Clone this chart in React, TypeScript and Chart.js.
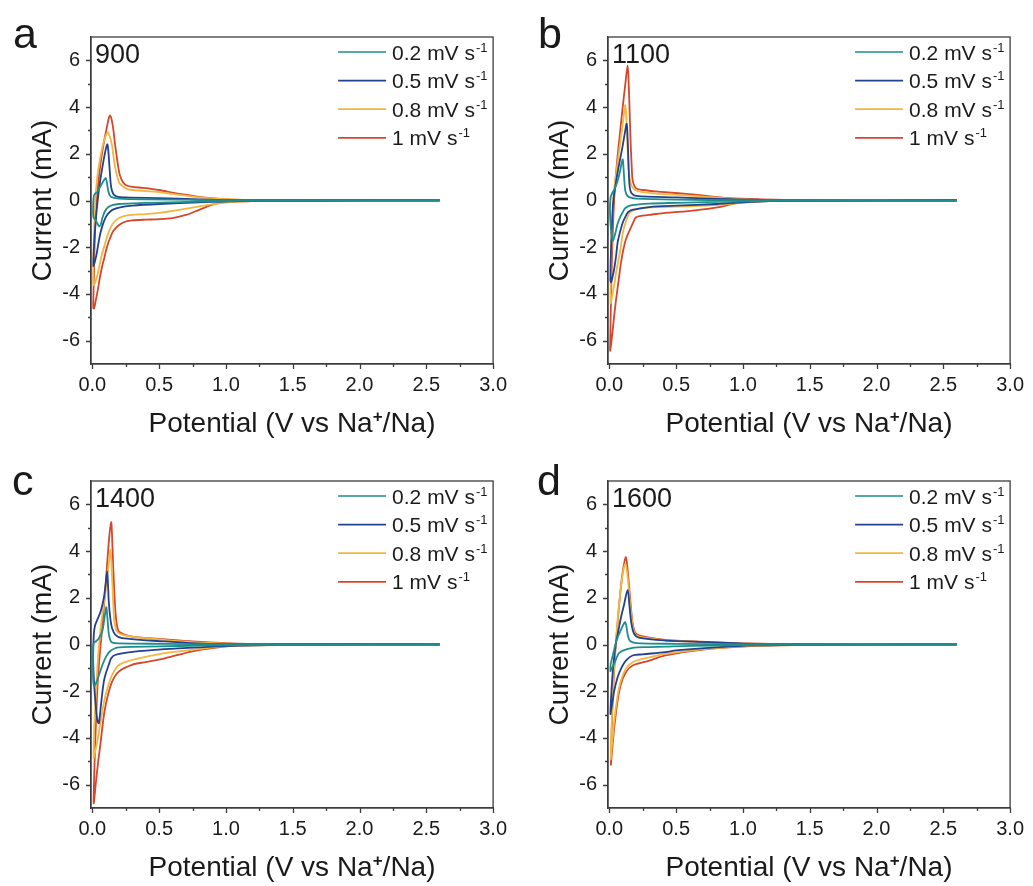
import React, { useEffect, useRef } from 'react';
import { Chart, registerables } from 'chart.js';

Chart.register(...registerables);

// ---------- categories / labels ----------
const RATE_LABELS = ['0.2 mV s', '0.5 mV s', '0.8 mV s', '1 mV s'];
const RATE_SUP = '-1';
const RATE_COLORS = ['#1d8e8c', '#22428f', '#f2b641', '#d5472b'];
const PANEL_LETTERS = ['a', 'b', 'c', 'd'];
const PANEL_TEMPS = ['900', '1100', '1400', '1600'];
const X_TICKS = [0, 0.5, 1, 1.5, 2, 2.5, 3];
const X_MINOR = [0.25, 0.75, 1.25, 1.75, 2.25, 2.75];
const Y_TICKS = [-6, -4, -2, 0, 2, 4, 6];
const Y_MINOR = [-5, -3, -1, 1, 3, 5];

// ---------- series: [potential V, current mA], cathodic sweep then anodic sweep ----------
const CV_900_02: [number, number][] = [
  [2.6, 0.01], [1.5, 0.0], [1.1, -0.02], [0.8, -0.05], [0.5, -0.09], [0.3, -0.12], [0.2, -0.15], [0.15, -0.2],
  [0.12, -0.28], [0.095, -0.45], [0.075, -0.75], [0.062, -1.05], [0.05, -1.1], [0.035, -0.95], [0.02, -0.8], [0.008, -0.72],
  [0.006, -0.3], [0.01, 0.15], [0.018, 0.28], [0.035, 0.35], [0.055, 0.55], [0.075, 0.75], [0.09, 0.9], [0.1, 0.96],
  [0.108, 0.8], [0.118, 0.45], [0.13, 0.22], [0.15, 0.13], [0.2, 0.08], [0.4, 0.05], [0.8, 0.03], [1.2, 0.01], [2.6, 0.01],
];
const CV_900_05: [number, number][] = [
  [2.6, 0.0], [1.5, -0.01], [1.1, -0.03], [0.8, -0.08], [0.5, -0.15], [0.3, -0.22], [0.2, -0.3], [0.15, -0.4],
  [0.12, -0.55], [0.1, -0.72], [0.08, -1.0], [0.06, -1.4], [0.045, -1.85], [0.03, -2.35], [0.015, -2.7], [0.008, -2.8],
  [0.012, -2.0], [0.025, -0.9], [0.04, 0.0], [0.055, 0.7], [0.07, 1.25], [0.09, 1.9], [0.105, 2.3], [0.113, 2.4],
  [0.12, 2.1], [0.13, 1.3], [0.14, 0.6], [0.155, 0.3], [0.18, 0.18], [0.25, 0.13], [0.5, 0.1], [0.8, 0.05], [1.1, 0.02], [2.6, 0.01],
];
const CV_900_08: [number, number][] = [
  [2.6, 0.0], [1.5, -0.01], [1.2, -0.03], [1.0, -0.09], [0.8, -0.25], [0.6, -0.45], [0.5, -0.53], [0.4, -0.58],
  [0.26, -0.64], [0.2, -0.75], [0.158, -0.95], [0.13, -1.25], [0.109, -1.57], [0.09, -1.95], [0.072, -2.3], [0.055, -2.75],
  [0.04, -3.15], [0.025, -3.45], [0.012, -3.62], [0.006, -3.5],
  [0.008, -2.6], [0.014, -1.2], [0.022, 0.0], [0.035, 0.9], [0.05, 1.5], [0.065, 2.0], [0.08, 2.4], [0.096, 2.7],
  [0.116, 2.93], [0.13, 2.75], [0.146, 2.4], [0.158, 1.9], [0.17, 1.43], [0.19, 0.95], [0.207, 0.71], [0.257, 0.5],
  [0.3, 0.45], [0.5, 0.36], [0.6, 0.28], [0.75, 0.17], [0.9, 0.09], [1.0, 0.06], [1.2, 0.02], [2.6, 0.01],
];
const CV_900_10: [number, number][] = [
  [2.6, 0.0], [1.5, -0.01], [1.2, -0.03], [1.0, -0.06], [0.9, -0.18], [0.8, -0.4], [0.7, -0.62], [0.6, -0.75],
  [0.5, -0.8], [0.4, -0.82], [0.3, -0.85], [0.25, -0.9], [0.2, -1.05], [0.158, -1.3], [0.13, -1.65], [0.109, -2.0],
  [0.09, -2.45], [0.072, -2.86], [0.055, -3.35], [0.04, -3.86], [0.025, -4.3], [0.013, -4.62], [0.007, -4.6],
  [0.009, -3.9], [0.014, -2.6], [0.02, -1.3], [0.03, -0.2], [0.04, 0.5], [0.055, 1.3], [0.072, 2.0], [0.09, 2.6],
  [0.109, 3.14], [0.122, 3.5], [0.133, 3.64], [0.145, 3.45], [0.158, 3.0], [0.17, 2.4], [0.183, 1.86], [0.195, 1.4],
  [0.207, 1.07], [0.23, 0.78], [0.257, 0.64], [0.3, 0.58], [0.38, 0.54], [0.5, 0.45], [0.62, 0.31], [0.75, 0.2],
  [0.87, 0.11], [0.98, 0.06], [1.2, 0.02], [2.6, 0.01],
];

const CV_1100_02: [number, number][] = [
  [2.6, 0.0], [1.5, -0.01], [1.1, -0.03], [0.8, -0.06], [0.5, -0.1], [0.3, -0.13], [0.17, -0.2], [0.12, -0.32],
  [0.1, -0.5], [0.08, -0.72], [0.062, -1.0], [0.045, -1.4], [0.032, -1.65], [0.025, -1.72], [0.015, -1.4], [0.008, -0.9],
  [0.005, -0.5], [0.006, -0.1], [0.01, 0.15], [0.02, 0.3], [0.04, 0.5], [0.06, 0.8], [0.08, 1.25], [0.092, 1.6],
  [0.1, 1.76], [0.106, 1.4], [0.113, 0.8], [0.12, 0.4], [0.135, 0.2], [0.16, 0.12], [0.2, 0.08], [0.5, 0.04], [1.0, 0.01], [2.6, 0.01],
];
const CV_1100_05: [number, number][] = [
  [2.6, 0.0], [1.5, -0.01], [1.2, -0.03], [1.0, -0.08], [0.8, -0.15], [0.5, -0.22], [0.3, -0.28], [0.17, -0.4],
  [0.14, -0.5], [0.12, -0.7], [0.1, -0.95], [0.08, -1.35], [0.062, -1.8], [0.05, -2.4], [0.037, -2.9], [0.025, -3.25],
  [0.013, -3.5], [0.008, -3.4], [0.012, -2.2], [0.02, -1.0], [0.03, 0.0], [0.045, 0.6], [0.065, 1.3], [0.085, 1.9],
  [0.1, 2.35], [0.115, 2.85], [0.13, 3.28], [0.138, 2.5], [0.145, 1.3], [0.152, 0.6], [0.165, 0.32], [0.2, 0.2],
  [0.5, 0.13], [0.8, 0.07], [1.0, 0.04], [1.3, 0.01], [2.6, 0.01],
];
const CV_1100_08: [number, number][] = [
  [2.6, 0.0], [1.5, -0.01], [1.2, -0.03], [1.0, -0.1], [0.8, -0.2], [0.6, -0.25], [0.4, -0.28], [0.25, -0.32],
  [0.18, -0.42], [0.15, -0.55], [0.124, -0.9], [0.1, -1.4], [0.087, -1.95], [0.07, -2.5], [0.05, -3.1], [0.037, -3.6],
  [0.025, -3.97], [0.013, -4.35], [0.008, -4.4], [0.01, -3.5], [0.015, -2.2], [0.022, -0.9], [0.03, 0.1], [0.04, 0.7],
  [0.055, 1.3], [0.075, 2.2], [0.09, 2.85], [0.105, 3.5], [0.119, 4.08], [0.128, 3.4], [0.137, 2.2], [0.149, 1.1],
  [0.165, 0.65], [0.2, 0.43], [0.3, 0.32], [0.5, 0.24], [0.7, 0.17], [0.9, 0.08], [1.1, 0.03], [2.6, 0.01],
];
const CV_1100_10: [number, number][] = [
  [2.6, 0.0], [1.5, -0.01], [1.2, -0.02], [1.05, -0.05], [0.99, -0.07], [0.9, -0.18], [0.82, -0.28], [0.7, -0.38],
  [0.57, -0.47], [0.42, -0.53], [0.32, -0.6], [0.25, -0.65], [0.2, -0.72], [0.174, -1.0], [0.15, -1.3], [0.124, -1.66],
  [0.105, -2.1], [0.087, -2.67], [0.07, -3.4], [0.05, -4.26], [0.037, -4.9], [0.025, -5.56], [0.012, -6.2], [0.006, -6.43],
  [0.008, -5.6], [0.013, -4.0], [0.02, -2.4], [0.028, -1.0], [0.04, 0.4], [0.06, 1.8], [0.08, 2.9], [0.1, 4.0],
  [0.12, 5.0], [0.137, 5.78], [0.145, 5.0], [0.153, 3.6], [0.16, 2.4], [0.168, 1.4], [0.175, 0.85], [0.2, 0.52],
  [0.25, 0.45], [0.39, 0.37], [0.64, 0.25], [0.89, 0.1], [1.14, 0.05], [1.5, 0.02], [2.6, 0.01],
];

const CV_1400_02: [number, number][] = [
  [2.6, 0.0], [1.5, -0.01], [1.1, -0.03], [0.8, -0.05], [0.5, -0.08], [0.3, -0.1], [0.2, -0.12], [0.17, -0.16],
  [0.13, -0.3], [0.1, -0.55], [0.074, -0.9], [0.05, -1.3], [0.035, -1.55], [0.02, -1.75], [0.012, -1.8], [0.006, -1.5],
  [0.005, -0.8], [0.006, -0.1], [0.01, 0.05], [0.03, 0.15], [0.049, 0.27], [0.074, 0.56], [0.09, 1.1], [0.104, 1.6],
  [0.112, 1.2], [0.123, 0.45], [0.135, 0.18], [0.15, 0.08], [0.2, 0.05], [0.5, 0.03], [1.0, 0.01], [2.6, 0.01],
];
const CV_1400_05: [number, number][] = [
  [2.6, 0.0], [1.5, -0.01], [1.1, -0.05], [0.8, -0.12], [0.54, -0.2], [0.3, -0.32], [0.17, -0.45], [0.14, -0.6],
  [0.123, -0.87], [0.1, -1.25], [0.086, -1.59], [0.074, -2.1], [0.062, -2.73], [0.049, -3.37], [0.04, -3.3], [0.03, -2.9],
  [0.018, -2.1], [0.01, -1.3], [0.006, -0.6], [0.008, 0.0], [0.012, 0.5], [0.02, 0.8], [0.037, 1.06], [0.062, 1.41],
  [0.086, 1.99], [0.1, 2.6], [0.111, 3.13], [0.117, 2.6], [0.123, 1.84], [0.135, 1.1], [0.148, 0.7], [0.173, 0.41],
  [0.222, 0.27], [0.54, 0.13], [0.74, 0.06], [1.0, 0.02], [2.6, 0.01],
];
const CV_1400_08: [number, number][] = [
  [2.6, 0.0], [1.5, -0.01], [1.1, -0.04], [0.9, -0.12], [0.74, -0.23], [0.54, -0.37], [0.3, -0.66], [0.2, -0.87],
  [0.148, -1.3], [0.12, -1.75], [0.099, -2.16], [0.08, -2.7], [0.062, -3.3], [0.037, -4.16], [0.02, -4.6], [0.01, -4.87],
  [0.011, -4.2], [0.016, -3.3], [0.025, -2.3], [0.04, -0.8], [0.06, 0.6], [0.08, 1.5], [0.1, 2.3], [0.12, 3.3],
  [0.136, 4.06], [0.143, 3.5], [0.15, 2.6], [0.158, 1.6], [0.165, 1.0], [0.185, 0.55], [0.25, 0.38], [0.5, 0.22],
  [0.75, 0.1], [1.0, 0.04], [1.3, 0.01], [2.6, 0.01],
];
const CV_1400_10: [number, number][] = [
  [2.6, 0.0], [1.5, -0.01], [1.1, -0.05], [0.9, -0.15], [0.74, -0.3], [0.543, -0.59], [0.4, -0.75], [0.296, -0.87],
  [0.198, -1.16], [0.148, -1.59], [0.111, -2.3], [0.09, -2.9], [0.074, -3.59], [0.06, -4.3], [0.044, -5.0], [0.025, -6.0],
  [0.015, -6.6], [0.01, -6.8], [0.012, -6.0], [0.02, -4.5], [0.035, -2.2], [0.05, -0.8], [0.075, 0.8], [0.1, 2.6],
  [0.125, 4.5], [0.141, 5.24], [0.148, 4.6], [0.155, 3.5], [0.165, 2.2], [0.173, 1.4], [0.185, 0.8], [0.2, 0.55],
  [0.3, 0.34], [0.55, 0.22], [0.75, 0.13], [1.0, 0.06], [1.3, 0.02], [2.6, 0.01],
];

const CV_1600_02: [number, number][] = [
  [2.6, 0.0], [1.5, -0.01], [1.0, -0.03], [0.6, -0.06], [0.42, -0.09], [0.3, -0.11], [0.174, -0.14], [0.1, -0.26],
  [0.07, -0.38], [0.062, -0.47], [0.045, -0.7], [0.03, -0.9], [0.015, -1.05], [0.008, -1.14],
  [0.01, -0.85], [0.02, -0.6], [0.035, -0.25], [0.05, 0.1], [0.065, 0.35], [0.085, 0.6], [0.105, 0.85], [0.119, 0.96],
  [0.13, 0.7], [0.14, 0.35], [0.155, 0.15], [0.2, 0.06], [0.5, 0.03], [1.0, 0.01], [2.6, 0.01],
];
const CV_1600_05: [number, number][] = [
  [2.6, 0.0], [1.5, -0.01], [1.1, -0.04], [0.8, -0.12], [0.5, -0.25], [0.42, -0.33], [0.25, -0.42], [0.174, -0.47],
  [0.124, -0.69], [0.087, -1.04], [0.062, -1.4], [0.037, -1.97], [0.025, -2.4], [0.015, -2.75], [0.008, -2.97],
  [0.02, -1.6], [0.035, -0.6], [0.05, 0.1], [0.065, 0.5], [0.085, 1.1], [0.11, 1.7], [0.137, 2.34], [0.15, 1.7],
  [0.165, 0.9], [0.185, 0.46], [0.22, 0.29], [0.42, 0.17], [0.75, 0.1], [1.0, 0.04], [1.3, 0.01], [2.6, 0.01],
];
const CV_1600_08: [number, number][] = [
  [2.6, 0.0], [1.5, -0.01], [1.1, -0.05], [0.75, -0.18], [0.42, -0.4], [0.3, -0.55], [0.174, -0.76], [0.124, -1.04],
  [0.087, -1.54], [0.062, -2.19], [0.037, -3.26], [0.025, -3.97], [0.015, -4.6], [0.01, -4.9],
  [0.02, -3.0], [0.03, -1.6], [0.045, -0.2], [0.06, 0.9], [0.08, 2.1], [0.1, 3.0], [0.119, 3.46], [0.135, 3.0],
  [0.155, 1.8], [0.175, 0.8], [0.2, 0.4], [0.3, 0.26], [0.42, 0.18], [0.75, 0.09], [1.0, 0.04], [1.3, 0.01], [2.6, 0.01],
];
const CV_1600_10: [number, number][] = [
  [2.6, 0.0], [1.5, -0.01], [1.1, -0.06], [0.746, -0.19], [0.42, -0.47], [0.3, -0.69], [0.174, -0.9], [0.124, -1.19],
  [0.087, -1.69], [0.062, -2.4], [0.037, -3.54], [0.025, -4.26], [0.015, -4.9], [0.012, -5.14],
  [0.02, -3.2], [0.03, -1.8], [0.045, -0.3], [0.06, 0.8], [0.08, 2.1], [0.1, 3.1], [0.124, 3.74], [0.14, 3.0],
  [0.16, 1.7], [0.175, 0.9], [0.2, 0.46], [0.3, 0.29], [0.42, 0.2], [0.75, 0.1], [1.0, 0.05], [1.3, 0.01], [2.6, 0.01],
];

const PANEL_CURVES = [
  [CV_900_02, CV_900_05, CV_900_08, CV_900_10],
  [CV_1100_02, CV_1100_05, CV_1100_08, CV_1100_10],
  [CV_1400_02, CV_1400_05, CV_1400_08, CV_1400_10],
  [CV_1600_02, CV_1600_05, CV_1600_08, CV_1600_10],
];

// ---------- styling / layout ----------
const FONT = '"Liberation Sans", Arial, Helvetica, sans-serif';
const AXIS_COLOR = '#3c3c3c';
const TEXT_COLOR = '#1a1a1a';
const CANVAS_W = 516;
const CANVAS_H = 443;
const PANEL_POS = [
  { left: 0, top: 0, letterX: 13, letterY: 48 },
  { left: 517, top: 0, letterX: 21, letterY: 48 },
  { left: 0, top: 444, letterX: 12, letterY: 51 },
  { left: 517, top: 444, letterX: 20, letterY: 51 },
];

function makeDecoPlugin(idx: number) {
  return {
    id: 'deco' + idx,
    afterDraw(chart: any) {
      const { ctx, chartArea } = chart;
      const xs = chart.scales.x;
      const ys = chart.scales.y;
      const { left, right, top, bottom } = chartArea;
      ctx.save();
      // frame
      ctx.strokeStyle = AXIS_COLOR;
      ctx.lineWidth = 1.3;
      ctx.strokeRect(left, top, right - left, bottom - top);
      // ticks
      ctx.beginPath();
      X_TICKS.forEach((v) => { const p = Math.round(xs.getPixelForValue(v)) + 0.5; ctx.moveTo(p, bottom); ctx.lineTo(p, bottom + 5); });
      X_MINOR.forEach((v) => { const p = Math.round(xs.getPixelForValue(v)) + 0.5; ctx.moveTo(p, bottom); ctx.lineTo(p, bottom + 3); });
      Y_TICKS.forEach((v) => { const p = Math.round(ys.getPixelForValue(v)) + 0.5; ctx.moveTo(left, p); ctx.lineTo(left - 5, p); });
      Y_MINOR.forEach((v) => { const p = Math.round(ys.getPixelForValue(v)) + 0.5; ctx.moveTo(left, p); ctx.lineTo(left - 3, p); });
      ctx.stroke();

      // legend
      const lx0 = right - 155;
      const lx1 = right - 107;
      const tx = right - 101;
      RATE_LABELS.forEach((lab, i) => {
        const y = top + 15 + i * 28.6;
        ctx.strokeStyle = RATE_COLORS[i];
        ctx.lineWidth = 1.7;
        ctx.beginPath();
        ctx.moveTo(lx0, y);
        ctx.lineTo(lx1, y);
        ctx.stroke();
        ctx.fillStyle = TEXT_COLOR;
        ctx.textBaseline = 'alphabetic';
        ctx.textAlign = 'left';
        ctx.font = `21px ${FONT}`;
        const base = y + 7.5;
        ctx.fillText(lab, tx, base);
        const w = ctx.measureText(lab).width;
        ctx.font = `13px ${FONT}`;
        ctx.fillText(RATE_SUP, tx + w + 1, base - 8);
      });

      // temperature label
      ctx.fillStyle = TEXT_COLOR;
      ctx.font = `27px ${FONT}`;
      ctx.textAlign = 'left';
      ctx.textBaseline = 'alphabetic';
      ctx.fillText(PANEL_TEMPS[idx], left + 4, top + 26);

      // panel letter
      ctx.font = `43px ${FONT}`;
      ctx.fillText(PANEL_LETTERS[idx], PANEL_POS[idx].letterX, PANEL_POS[idx].letterY);

      // x-axis title with superscript
      const parts = ['Potential (V vs Na', '+', '/Na)'];
      ctx.font = `28px ${FONT}`;
      const w0 = ctx.measureText(parts[0]).width;
      const w2 = ctx.measureText(parts[2]).width;
      ctx.font = `bold 17px ${FONT}`;
      const w1 = ctx.measureText(parts[1]).width;
      const total = w0 + w1 + w2;
      const cx = (left + right) / 2;
      const baseY = 432;
      let x = cx - total / 2;
      ctx.font = `28px ${FONT}`;
      ctx.fillText(parts[0], x, baseY);
      x += w0;
      ctx.font = `bold 17px ${FONT}`;
      ctx.fillText(parts[1], x, baseY - 10);
      x += w1;
      ctx.font = `28px ${FONT}`;
      ctx.fillText(parts[2], x, baseY);
      ctx.restore();
    },
  };
}

function Panel({ idx }: { idx: number }) {
  const ref = useRef<HTMLCanvasElement | null>(null);
  useEffect(() => {
    if (!ref.current) return;
    const curves = PANEL_CURVES[idx];
    const chart = new Chart(ref.current, {
      type: 'scatter',
      data: {
        datasets: curves.map((c, i) => ({
          label: RATE_LABELS[i] + RATE_SUP,
          data: c.map(([x, y]) => ({ x, y })),
          showLine: true,
          borderColor: RATE_COLORS[i],
          backgroundColor: RATE_COLORS[i],
          borderWidth: 1.8,
          pointRadius: 0,
          pointHoverRadius: 0,
          tension: 0.3,
          fill: false,
        })),
      },
      options: {
        animation: false,
        responsive: false,
        events: [],
        layout: { padding: { top: 37, right: 18, left: 0, bottom: 0 } },
        plugins: { legend: { display: false }, tooltip: { enabled: false } },
        scales: {
          x: {
            type: 'linear',
            min: -0.01,
            max: 3.0,
            afterBuildTicks: (s: any) => { s.ticks = X_TICKS.map((v) => ({ value: v })); },
            afterFit: (s: any) => { s.height = 79; },
            grid: { display: false, drawTicks: false },
            border: { display: true, color: AXIS_COLOR, width: 1.3 },
            ticks: {
              font: { family: FONT, size: 20 },
              color: TEXT_COLOR,
              padding: 9,
              maxRotation: 0,
              autoSkip: false,
              callback: (v: any) => Number(v).toFixed(1),
            },
            title: { display: false },
          },
          y: {
            type: 'linear',
            min: -7,
            max: 7,
            afterBuildTicks: (s: any) => { s.ticks = Y_TICKS.map((v) => ({ value: v })); },
            afterFit: (s: any) => { s.width = 91; },
            grid: { display: false, drawTicks: false },
            border: { display: true, color: AXIS_COLOR, width: 1.3 },
            ticks: {
              font: { family: FONT, size: 20 },
              color: TEXT_COLOR,
              padding: 11,
              autoSkip: false,
              callback: (v: any) => String(v),
            },
            title: {
              display: true,
              text: 'Current (mA)',
              color: TEXT_COLOR,
              font: { family: FONT, size: 28 },
              padding: { top: 26, bottom: 0 },
            },
          },
        },
      },
      plugins: [makeDecoPlugin(idx)],
    } as any);
    return () => chart.destroy();
  }, [idx]);
  const pos = PANEL_POS[idx];
  return (
    <canvas
      ref={ref}
      width={CANVAS_W}
      height={CANVAS_H}
      style={{ position: 'absolute', left: pos.left, top: pos.top, width: CANVAS_W, height: CANVAS_H }}
    />
  );
}

export default function App() {
  return (
    <div style={{ position: 'absolute', left: 0, top: 0, width: 1033, height: 886, overflow: 'hidden', background: '#fff' }}>
      {[0, 1, 2, 3].map((i) => <Panel key={i} idx={i} />)}
    </div>
  );
}
